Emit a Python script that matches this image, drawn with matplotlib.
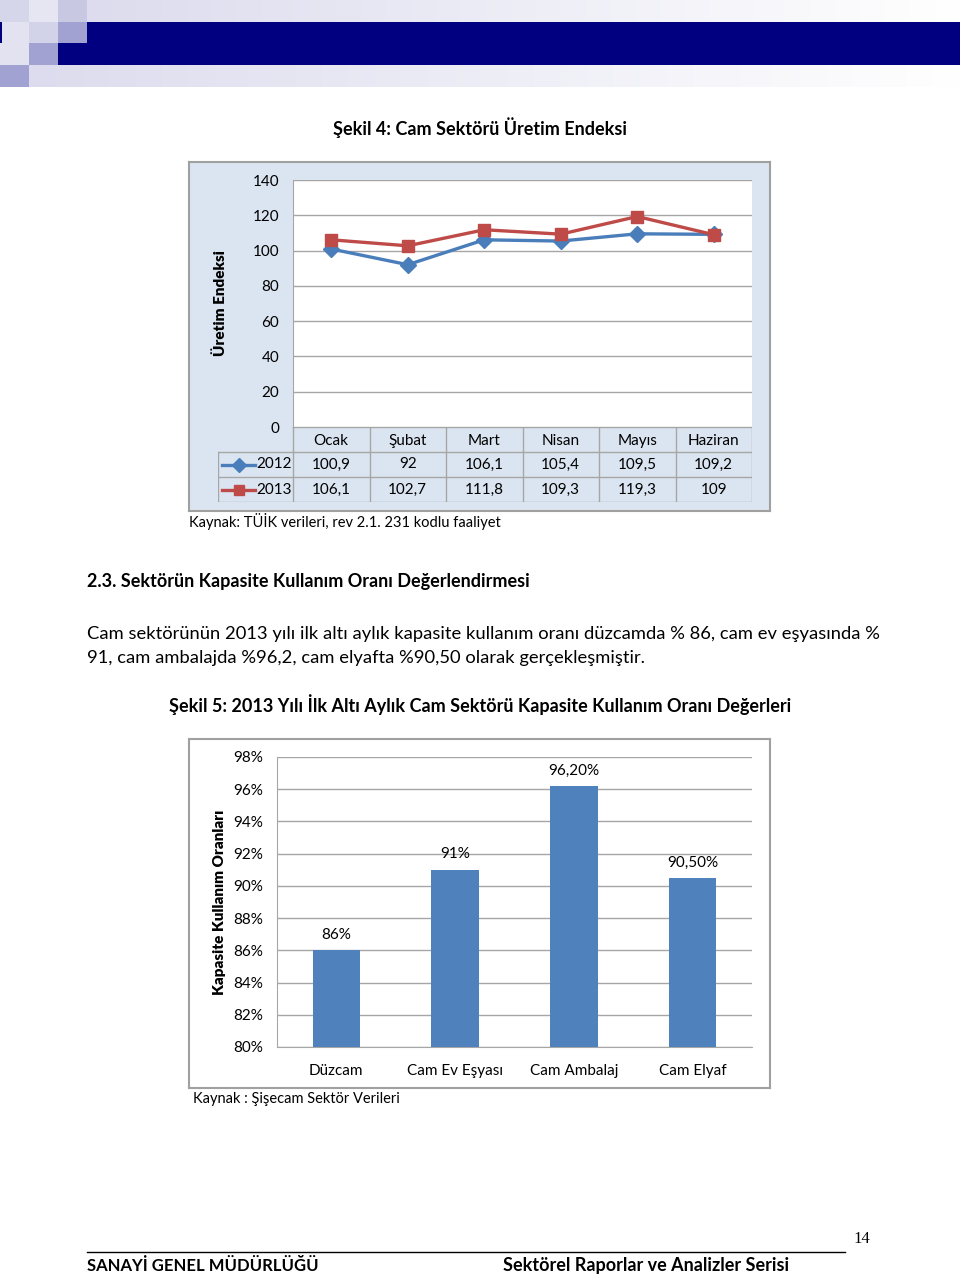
import numpy as np
import matplotlib
matplotlib.use("Agg")
import matplotlib.pyplot as plt
from matplotlib.lines import Line2D

# ---------------- data ----------------
months = ["Ocak", "Şubat", "Mart", "Nisan", "Mayıs", "Haziran"]
series_names = ["2012", "2013"]
idx2012 = [100.9, 92, 106.1, 105.4, 109.5, 109.2]
idx2013 = [106.1, 102.7, 111.8, 109.3, 119.3, 109]
y1_ticks = [0, 20, 40, 60, 80, 100, 120, 140]

sectors = ["Düzcam", "Cam Ev Eşyası", "Cam Ambalaj", "Cam Elyaf"]
capacity = [86, 91, 96.2, 90.5]
bar_labels = ["86%", "91%", "96,20%", "90,50%"]
y2_ticks = [80, 82, 84, 86, 88, 90, 92, 94, 96, 98]

W, H = 960, 1278
FONT = ["Lato", "DejaVu Sans"]
plt.rcParams["font.family"] = FONT

fig = plt.figure(figsize=(W / 100, H / 100), dpi=100)


def box(x0, y0, x1, y1):
    return [x0 / W, 1 - y1 / H, (x1 - x0) / W, (y1 - y0) / H]


def T(x, y, s, **kw):
    kw.setdefault("va", "center")
    kw.setdefault("color", "black")
    fig.text(x / W, 1 - y / H, s, **kw)


def fmt(v):
    return f"{v:g}".replace(".", ",")


# ---------------- header decoration ----------------
hdr = np.ones((87, W, 3))
def rgb(h):
    h = h.lstrip("#")
    return np.array([int(h[i:i + 2], 16) / 255 for i in (0, 2, 4)])
grad0 = np.linspace(0, 1, W - 87)[:, None]
c_light = rgb("#dcdcee")
hdr[0:22, 87:] = (c_light * (1 - grad0) + np.ones(3) * grad0)[None, :, :]
grad3 = np.linspace(0, 1, W - 29)[:, None]
hdr[65:87, 29:] = (c_light * (1 - grad3) + np.ones(3) * grad3)[None, :, :]
navy = rgb("#000080")
hdr[22:43, 87:] = navy
hdr[43:65, 58:] = navy
hdr[0:22, 0:29] = rgb("#d6d6ea")
hdr[0:22, 29:58] = rgb("#e6e6f3")
hdr[0:22, 58:87] = rgb("#c8c8e3")
hdr[22:43, 0:29] = rgb("#e2e2f1")
hdr[22:43, 0:2] = navy
hdr[22:43, 29:58] = rgb("#d2d2e9")
hdr[22:43, 58:87] = rgb("#a2a2d2")
hdr[43:65, 0:29] = rgb("#e2e2f1")
hdr[43:65, 29:58] = rgb("#a2a2d2")
hdr[65:87, 0:29] = rgb("#a2a2d2")
axh = fig.add_axes(box(0, 0, W, 87))
axh.imshow(hdr, aspect="auto", interpolation="nearest")
axh.axis("off")

# ---------------- chart 1 ----------------
T(480, 128, "Şekil 4: Cam Sektörü Üretim Endeksi", ha="center", fontsize=13, fontweight="bold")

bg1 = fig.add_axes(box(189, 162, 770, 511), zorder=-2)
bg1.set_xticks([]); bg1.set_yticks([])
bg1.set_facecolor("#dbe5f1")
for s in bg1.spines.values():
    s.set_color("#a0a0a0"); s.set_linewidth(1.5)

BLUE = "#4a7ebb"
RED = "#be4b48"
ax1 = fig.add_axes(box(293, 180, 752, 427))
ax1.set_facecolor("white")
x = np.arange(len(months))
ax1.plot(x, idx2012, color=BLUE, lw=2.4, marker="D", ms=8.5, mec=BLUE, zorder=3)
ax1.plot(x, idx2013, color=RED, lw=2.4, marker="s", ms=9, mec=RED, zorder=4)
ax1.set_xlim(-0.5, len(months) - 0.5)
ax1.set_ylim(0, 140)
ax1.set_yticks(y1_ticks)
ax1.set_yticklabels([str(t) for t in y1_ticks], fontsize=11)
ax1.set_xticks([])
ax1.yaxis.grid(True, color="#a6a6a6", lw=1)
ax1.set_axisbelow(True)
for s in ["top", "right", "bottom"]:
    ax1.spines[s].set_visible(False)
ax1.spines["left"].set_color("#a6a6a6")
ax1.tick_params(axis="y", length=0, pad=10)
T(220, 303, "Üretim Endeksi", rotation=90, ha="center", fontsize=11, fontweight="heavy")

# table
axt = fig.add_axes(box(218, 427, 752, 502))
axt.set_xlim(218, 752)
axt.set_ylim(3, 0)
axt.axis("off")
col_w = (752 - 293) / len(months)
edges = [293 + i * col_w for i in range(len(months) + 1)]
gc = "#a6a6a6"
axt.plot([293, 752], [0, 0], color=gc, lw=1)
for r in (1, 2, 3):
    axt.plot([218, 752], [r, r], color=gc, lw=1)
axt.plot([218, 218], [1, 3], color=gc, lw=1)
for e in edges:
    axt.plot([e, e], [0, 3], color=gc, lw=1)
for i, m in enumerate(months):
    cx = (edges[i] + edges[i + 1]) / 2
    axt.text(cx, 0.55, m, ha="center", va="center", fontsize=11)
    axt.text(cx, 1.5, fmt(idx2012[i]), ha="center", va="center", fontsize=11)
    axt.text(cx, 2.5, fmt(idx2013[i]), ha="center", va="center", fontsize=11)
for r, (nm, col, mk, ms) in enumerate([(series_names[0], BLUE, "D", 7), (series_names[1], RED, "s", 7.5)]):
    axt.add_line(Line2D([222, 255], [1.5 + r, 1.5 + r], color=col, lw=2.4))
    axt.add_line(Line2D([238.5], [1.5 + r], color=col, marker=mk, ms=ms, mec=col))
    axt.text(256, 1.5 + r, nm, ha="left", va="center", fontsize=11)

T(189, 521, "Kaynak: TÜİK verileri, rev 2.1. 231 kodlu faaliyet", ha="left", fontsize=10.5)

# ---------------- text ----------------
T(87, 582, "2.3. Sektörün Kapasite Kullanım Oranı Değerlendirmesi", ha="left", fontsize=13, fontweight="bold")
T(87, 634, "Cam sektörünün 2013 yılı ilk altı aylık kapasite kullanım oranı düzcamda % 86, cam ev eşyasında %",
  ha="left", fontsize=13.2)
T(87, 658, "91, cam ambalajda %96,2, cam elyafta %90,50 olarak gerçekleşmiştir.", ha="left", fontsize=13.2)
T(480, 705, "Şekil 5: 2013 Yılı İlk Altı Aylık Cam Sektörü Kapasite Kullanım Oranı Değerleri",
  ha="center", fontsize=13, fontweight="bold")

# ---------------- chart 2 ----------------
bg2 = fig.add_axes(box(189, 739, 770, 1088), zorder=-2)
bg2.set_xticks([]); bg2.set_yticks([])
bg2.set_facecolor("white")
for s in bg2.spines.values():
    s.set_color("#a0a0a0"); s.set_linewidth(1.5)

ax2 = fig.add_axes(box(277, 757, 752, 1047))
ax2.patch.set_alpha(0)
xb = np.arange(len(sectors))
bars = ax2.bar(xb, capacity, width=0.4, color="#4f81bd", zorder=3)
ax2.set_xlim(-0.5, len(sectors) - 0.5)
ax2.set_ylim(80, 98)
ax2.set_yticks(y2_ticks)
ax2.set_yticklabels([f"{t}%" for t in y2_ticks], fontsize=11)
ax2.set_xticks(xb)
ax2.set_xticklabels(sectors, fontsize=11)
ax2.yaxis.grid(True, color="#a6a6a6", lw=1)
ax2.set_axisbelow(True)
for s in ["top", "right"]:
    ax2.spines[s].set_visible(False)
ax2.spines["left"].set_color("#a6a6a6")
ax2.spines["bottom"].set_color("#a6a6a6")
ax2.tick_params(axis="y", length=0, pad=10)
ax2.tick_params(axis="x", length=0, pad=12)
for b, lab in zip(bars, bar_labels):
    ax2.annotate(lab, (b.get_x() + b.get_width() / 2, b.get_height()), xytext=(0, 6),
                 textcoords="offset points", ha="center", va="bottom", fontsize=11)
T(220, 902, "Kapasite Kullanım Oranları", rotation=90, ha="center", fontsize=11, fontweight="heavy")
T(193, 1099, "Kaynak : Şişecam Sektör Verileri", ha="left", fontsize=10.5)

# ---------------- footer ----------------
fig.add_artist(Line2D([87 / W, 845 / W], [1 - 1252 / H, 1 - 1252 / H], color="black", lw=1,
                      transform=fig.transFigure))
T(862, 1239, "14", ha="center", fontsize=12, family=["Liberation Serif", "DejaVu Serif"])
T(87, 1266, "SANAYİ GENEL MÜDÜRLÜĞÜ", ha="left", fontsize=12, fontweight="bold")
T(503, 1266, "Sektörel Raporlar ve Analizler Serisi", ha="left", fontsize=13, fontweight="bold")

fig.savefig("out.png", dpi=100, facecolor="white")
